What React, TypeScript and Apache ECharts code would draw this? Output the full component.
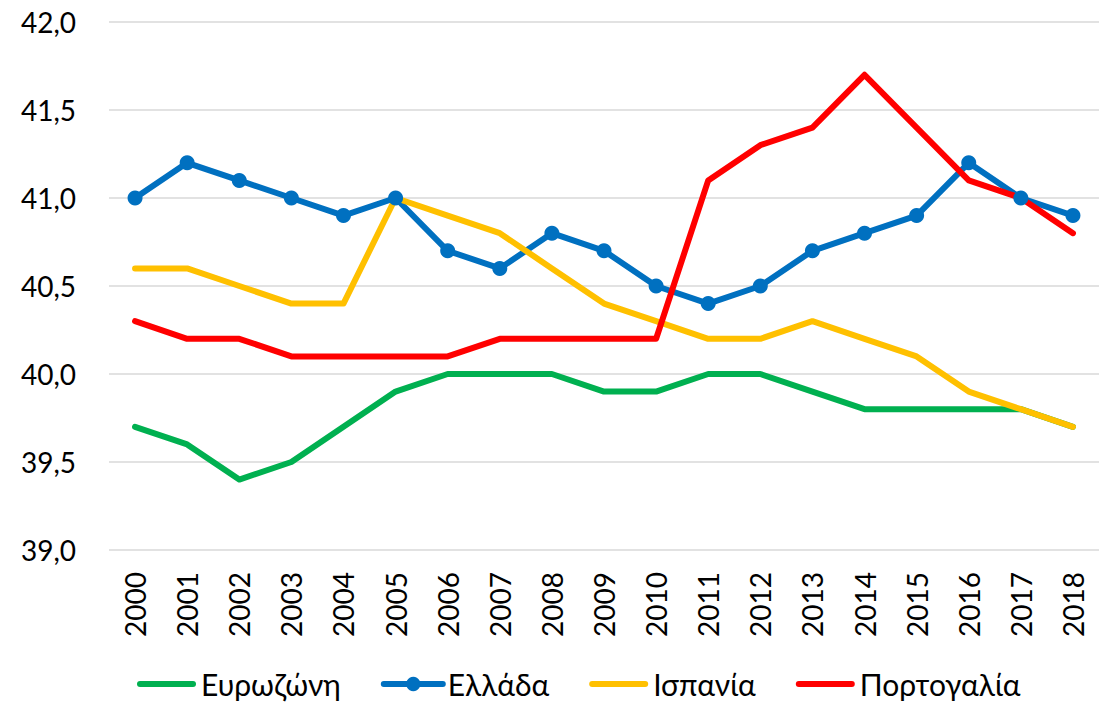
import React, { useEffect, useRef } from "react";
import * as echarts from "echarts";

const years = ["2000","2001","2002","2003","2004","2005","2006","2007","2008","2009","2010","2011","2012","2013","2014","2015","2016","2017","2018"];
const eurozone = [39.7,39.6,39.4,39.5,39.7,39.9,40.0,40.0,40.0,39.9,39.9,40.0,40.0,39.9,39.8,39.8,39.8,39.8,39.7];
const greece = [41.0,41.2,41.1,41.0,40.9,41.0,40.7,40.6,40.8,40.7,40.5,40.4,40.5,40.7,40.8,40.9,41.2,41.0,40.9];
const spain = [40.6,40.6,40.5,40.4,40.4,41.0,40.9,40.8,40.6,40.4,40.3,40.2,40.2,40.3,40.2,40.1,39.9,39.8,39.7];
const portugal = [40.3,40.2,40.2,40.1,40.1,40.1,40.1,40.2,40.2,40.2,40.2,41.1,41.3,41.4,41.7,41.4,41.1,41.0,40.8];
const seriesNames = ["Ευρωζώνη","Ελλάδα","Ισπανία","Πορτογαλία"];

const FONT = "Lato, 'Open Sans', sans-serif";
const BAR_ICON = "path://M3,0 L56,0 A3,3 0 0 1 56,6 L3,6 A3,3 0 0 1 3,0 Z";

export default function App() {
  const ref = useRef<HTMLDivElement>(null);
  useEffect(() => {
    if (!ref.current) return;
    const chart = echarts.init(ref.current, null, { renderer: "svg" });
    const lineSeries = (name: string, data: number[], color: string, marker: boolean) => ({
      name,
      type: "line",
      data,
      symbol: marker ? "circle" : "none",
      symbolSize: 15,
      showSymbol: marker,
      itemStyle: { color },
      lineStyle: { color, width: 6, cap: "round", join: "round" },
    });
    chart.setOption({
      animation: false,
      backgroundColor: "#ffffff",
      textStyle: { fontFamily: FONT },
      grid: { left: 109, top: 22, width: 1002.6, height: 528, containLabel: false },
      xAxis: {
        type: "category",
        data: years,
        boundaryGap: true,
        axisLine: { show: false },
        axisTick: { show: false },
        axisLabel: { rotate: 90, fontSize: 28, color: "#000", fontFamily: FONT, margin: 22 },
      },
      yAxis: {
        type: "value",
        min: 39,
        max: 42,
        interval: 0.5,
        axisLine: { show: false },
        axisTick: { show: false },
        splitLine: { lineStyle: { color: "#d9d9d9", width: 1.5 } },
        axisLabel: {
          fontSize: 28,
          color: "#000",
          fontFamily: FONT,
          margin: 33,
          formatter: (v: number) => v.toFixed(1).replace(".", ","),
        },
      },
      legend: {
        top: 664,
        left: 132,
        itemWidth: 59,
        itemHeight: 18,
        itemGap: 40,
        lineStyle: { width: 6 },
        textStyle: { fontSize: 30, color: "#000", fontFamily: FONT },
        data: [
          { name: seriesNames[0], icon: BAR_ICON },
          { name: seriesNames[1] },
          { name: seriesNames[2], icon: BAR_ICON },
          { name: seriesNames[3], icon: BAR_ICON },
        ],
      },
      series: [
        lineSeries(seriesNames[0], eurozone, "#00B050", false),
        lineSeries(seriesNames[1], greece, "#0070C0", true),
        lineSeries(seriesNames[2], spain, "#FFC000", false),
        lineSeries(seriesNames[3], portugal, "#FF0000", false),
      ],
    });
    return () => chart.dispose();
  }, []);
  return (
    <div
      ref={ref}
      style={{ position: "absolute", left: 0, top: 0, width: 1099, height: 703, background: "#fff" }}
    />
  );
}
